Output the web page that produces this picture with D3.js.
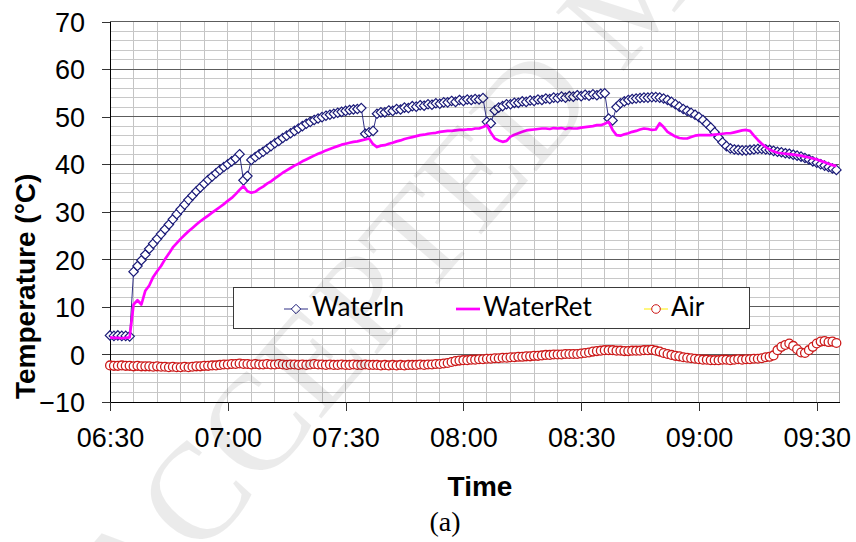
<!DOCTYPE html>
<html>
<head>
<meta charset="utf-8">
<script src="https://cdn.jsdelivr.net/npm/d3@7"></script>
<style>
  body { margin: 0; background: #fff; }
  svg { display: block; }
</style>
</head>
<body>
<svg id="chart" width="856" height="542"></svg>
<script>
// Logged temperatures, one reading per minute from 06:30
const startTime = "06:30";
const endTime = "09:35:40";

const waterIn = [
  4.0, 3.9, 4.0, 3.9, 3.9, 3.8,
  17.4, 18.6, 19.8, 21.0, 22.2, 23.3, 24.3, 25.3, 26.3, 27.3,
  28.4, 29.5, 30.5, 31.5, 32.5, 33.4, 34.3, 35.1, 35.9, 36.7,
  37.4, 38.1, 38.8, 39.4, 40.0, 40.6, 41.2, 42.1,
  36.6, 37.5, 40.9,
  41.5, 42.1, 42.6, 43.2, 43.8, 44.4, 44.9, 45.5, 46.0, 46.5, 47.0, 47.5, 48.0, 48.5,
  48.9, 49.3, 49.6, 49.9, 50.2, 50.4, 50.6, 50.8, 51.0, 51.2, 51.4, 51.5, 51.6, 51.8,
  46.4, 46.7, 47.0,
  50.6, 50.9, 50.9, 51.3, 51.2, 51.6, 51.5, 51.9, 51.8, 52.2, 52.1, 52.4, 52.3, 52.6,
  52.5, 52.8, 52.7, 53.0, 53.0, 53.3, 53.1, 53.5, 53.3, 53.6, 53.5, 53.7, 53.6, 53.9,
  48.9, 48.6, 51.3,
  51.9, 52.2, 52.6, 52.6, 52.9, 52.9, 53.2, 53.1, 53.4, 53.3, 53.6, 53.5, 53.8, 53.7,
  54.0, 53.9, 54.2, 54.0, 54.3, 54.2, 54.5, 54.3, 54.6, 54.4, 54.7, 54.5, 54.8, 54.9,
  49.6, 49.2, 52.0,
  52.8, 53.2, 53.5, 53.7, 53.8, 53.9, 54.0, 54.0, 54.1, 54.1, 54.0, 53.8, 53.5, 53.1,
  52.6, 52.1, 51.6, 51.2, 50.8, 50.4, 49.9, 49.3, 48.5, 47.7, 46.7, 45.6, 44.6, 43.8,
  43.3, 43.1, 43.0, 42.9, 42.9, 43.0, 43.1, 43.2, 43.2, 43.1, 43.0, 42.8, 42.6, 42.5,
  42.3, 42.2, 42.0, 41.8, 41.6, 41.3, 41.0, 40.6, 40.3, 40.0, 39.7, 39.4, 39.1, 38.8
];

const waterRet = [
  3.6, 3.5, 3.5, 3.4, 3.5, 3.6,
  10.5, 11.4, 10.5, 13.4, 14.5, 16.3, 17.5, 18.6, 20.0, 21.2,
  22.5, 23.4, 24.3, 25.1, 25.9, 26.6, 27.3, 28.0, 28.6, 29.2,
  29.8, 30.4, 31.0, 31.6, 32.3, 32.9, 33.7, 34.6, 35.4, 34.3,
  34.0, 34.2, 34.8, 35.3, 35.9, 36.4, 37.0, 37.6, 38.2, 38.7,
  39.2, 39.7, 40.1, 40.6, 41.0, 41.4, 41.8, 42.2, 42.5, 42.9,
  43.2, 43.5, 43.8, 44.1, 44.3, 44.5, 44.7, 44.8, 45.0, 45.2,
  45.4, 44.2, 43.6, 43.9, 44.0, 44.3, 44.5, 44.8, 45.0, 45.3,
  45.5, 45.7, 45.9, 46.1, 46.2, 46.4, 46.5, 46.6, 46.8, 46.9,
  47.0, 47.0, 47.1, 47.2, 47.2, 47.3, 47.3, 47.5, 47.5, 47.8,
  48.2, 46.6, 45.4, 45.0, 44.7, 44.9, 45.8, 46.2, 46.5, 46.8,
  47.1, 47.2, 47.3, 47.4, 47.5, 47.5, 47.4, 47.6, 47.5, 47.6,
  47.4, 47.6, 47.5, 47.5, 47.7, 47.8, 47.9, 48.0, 48.2, 48.2,
  48.5, 48.9, 47.2, 46.1, 46.0, 46.3, 46.5, 46.8, 47.0, 47.3,
  47.5, 47.4, 47.2, 47.3, 48.6, 47.8, 46.8, 46.3, 45.8, 45.5,
  45.4, 45.4, 45.7, 46.0, 46.1, 46.1, 46.1, 46.1, 46.2, 46.3,
  46.4, 46.5, 46.5, 46.7, 46.9, 47.1, 47.2, 47.0, 46.0, 45.1,
  44.3, 43.6, 43.1, 42.7, 42.4, 42.3, 42.2, 42.1, 42.0, 41.9,
  41.8, 41.6, 41.4, 41.2, 41.0, 40.7, 40.4, 40.1, 39.8, 39.6
];

const air = [
  -2.3, -2.4, -2.4, -2.3, -2.4, -2.4, -2.5, -2.4, -2.5, -2.5,
  -2.5, -2.6, -2.5, -2.6, -2.6, -2.7, -2.6, -2.7, -2.7, -2.6,
  -2.7, -2.6, -2.5, -2.5, -2.4, -2.4, -2.3, -2.3, -2.2, -2.1,
  -2.1, -2.0, -2.0, -1.9, -2.0, -2.0, -2.1, -2.0, -2.1, -2.1,
  -2.0, -2.1, -2.1, -2.0, -2.1, -2.2, -2.1, -2.1, -2.2, -2.1,
  -2.2, -2.1, -2.0, -2.1, -2.1, -2.2, -2.1, -2.2, -2.2, -2.1,
  -2.2, -2.2, -2.1, -2.2, -2.2, -2.1, -2.2, -2.2, -2.2, -2.3,
  -2.2, -2.3, -2.2, -2.3, -2.2, -2.3, -2.2, -2.2, -2.2, -2.1,
  -2.2, -2.1, -2.1, -2.0, -2.0, -1.9, -1.8, -1.6, -1.4, -1.3,
  -1.2, -1.2, -1.1, -1.1, -1.0, -1.0, -0.9, -0.9, -0.8, -0.8,
  -0.7, -0.7, -0.6, -0.6, -0.5, -0.5, -0.4, -0.4, -0.3, -0.3,
  -0.2, -0.1, -0.1, 0.0, 0.0, 0.0, 0.1, 0.1, 0.1, 0.1,
  0.2, 0.3, 0.4, 0.6, 0.7, 0.8, 0.9, 0.9, 0.9, 0.8,
  0.8, 0.7, 0.7, 0.8, 0.8, 0.8, 0.9, 0.9, 1.0, 0.8,
  0.6, 0.3, 0.1, -0.1, -0.3, -0.4, -0.6, -0.7, -0.8, -0.9,
  -1.0, -1.1, -1.1, -1.2, -1.2, -1.2, -1.1, -1.1, -1.2, -1.1,
  -1.0, -1.1, -1.0, -1.0, -0.9, -0.9, -0.8, -0.6, -0.5, -0.2,
  0.9, 1.6, 2.0, 2.3, 1.8, 1.1, 0.4, 0.3, 0.9, 1.6,
  2.3, 2.7, 2.8, 2.6, 2.7, 2.4
];

const seriesNames = ["WaterIn", "WaterRet", "Air"];
const yTicks = [-10, 0, 10, 20, 30, 40, 50, 60, 70];
const xTickLabels = ["06:30", "07:00", "07:30", "08:00", "08:30", "09:00", "09:30"];

const parseHM = d3.timeParse("%H:%M");
const parseHMS = d3.timeParse("%H:%M:%S");
const t0 = parseHM(startTime);
const timeAt = i => d3.timeMinute.offset(t0, i);

const svg = d3.select("#chart");
const plot = { left: 110, right: 839, top: 21.5, bottom: 402 };

const x = d3.scaleTime()
  .domain([t0, parseHMS(endTime)])
  .range([plot.left, plot.right]);
const y = d3.scaleLinear()
  .domain([-10, 70])
  .range([plot.bottom, plot.top]);

const sansFont = "'Liberation Sans', Arial, sans-serif";

// Gridlines
const grid = svg.append("g").attr("shape-rendering", "crispEdges");
grid.selectAll("line.vgrid")
  .data(x.ticks(d3.timeMinute.every(6)).filter(d => x(d) > plot.left + 1))
  .join("line")
  .attr("x1", d => x(d)).attr("x2", d => x(d))
  .attr("y1", plot.top).attr("y2", plot.bottom)
  .attr("stroke", "#c4c4c4").attr("stroke-width", 1);
grid.selectAll("line.hminor")
  .data(d3.range(-8, 70, 2).filter(v => v % 10 !== 0))
  .join("line")
  .attr("x1", plot.left).attr("x2", plot.right)
  .attr("y1", d => y(d)).attr("y2", d => y(d))
  .attr("stroke", "#c8c8c8").attr("stroke-width", 1);
grid.selectAll("line.hmajor")
  .data(yTicks.filter(v => v > -10))
  .join("line")
  .attr("x1", plot.left).attr("x2", plot.right)
  .attr("y1", d => y(d)).attr("y2", d => y(d))
  .attr("stroke", "#5c5c5c").attr("stroke-width", 1);
grid.append("line")
  .attr("x1", plot.right).attr("x2", plot.right)
  .attr("y1", plot.top).attr("y2", plot.bottom)
  .attr("stroke", "#a6a6a6");

// Axes
const yAxis = d3.axisLeft(y)
  .tickValues(yTicks)
  .tickSize(8)
  .tickSizeOuter(0)
  .tickPadding(17)
  .tickFormat(d3.format("d"));
const gy = svg.append("g")
  .attr("transform", `translate(${plot.left},0)`)
  .call(yAxis);

const xAxis = d3.axisBottom(x)
  .tickValues(xTickLabels.map(parseHM))
  .tickSize(9)
  .tickSizeOuter(0)
  .tickPadding(17)
  .tickFormat(d3.timeFormat("%H:%M"));
const gx = svg.append("g")
  .attr("transform", `translate(0,${plot.bottom})`)
  .call(xAxis);

[gx, gy].forEach(g => {
  g.attr("shape-rendering", "crispEdges");
  g.select(".domain").attr("stroke", "#000").attr("stroke-width", 1.2);
  g.selectAll(".tick line").attr("stroke", "#333");
  g.selectAll(".tick text")
    .attr("fill", "#000")
    .style("font-family", sansFont)
    .style("font-size", "27px");
});
gy.selectAll(".tick text").attr("dy", "0.36em");

// Series
const line = d3.line()
  .x((d, i) => x(timeAt(i)))
  .y(d => y(d));

const diamond = "M0,-4.7L4.7,0L0,4.7L-4.7,0Z";
const inColor = "#1a1a78";
const retColor = "#ff00ff";
const airColor = "#cc1a1a";
const airLine = "#ffee00";

const sIn = svg.append("g");
sIn.append("path").datum(waterIn)
  .attr("d", line).attr("fill", "none")
  .attr("stroke", inColor).attr("stroke-width", 0.9);
sIn.selectAll("path.mk").data(waterIn).join("path")
  .attr("class", "mk")
  .attr("d", diamond)
  .attr("transform", (d, i) => `translate(${x(timeAt(i))},${y(d)})`)
  .attr("fill", "#fff").attr("stroke", inColor).attr("stroke-width", 1.2);

svg.append("path").datum(waterRet)
  .attr("d", line).attr("fill", "none")
  .attr("stroke", retColor).attr("stroke-width", 2.7)
  .attr("stroke-linejoin", "round");

const sAir = svg.append("g");
sAir.append("path").datum(air)
  .attr("d", line).attr("fill", "none")
  .attr("stroke", airLine).attr("stroke-width", 1);
sAir.selectAll("circle").data(air).join("circle")
  .attr("cx", (d, i) => x(timeAt(i)))
  .attr("cy", d => y(d))
  .attr("r", 4.4)
  .attr("fill", "#fff").attr("stroke", airColor).attr("stroke-width", 1.3);

// Legend
const legend = svg.append("g");
legend.append("rect")
  .attr("x", 233.5).attr("y", 287.5).attr("width", 516).attr("height", 41)
  .attr("fill", "#fff").attr("stroke", "#3a3a3a").attr("stroke-width", 1);
const legendFont = "Lato, 'Open Sans', sans-serif";
const legendY = 309;
const legendItems = [
  { name: seriesNames[0], x0: 284, text: 312 },
  { name: seriesNames[1], x0: 456, text: 483 },
  { name: seriesNames[2], x0: 644, text: 671 }
];
legendItems.forEach((it, k) => {
  const g = legend.append("g");
  if (k === 0) {
    g.append("line").attr("x1", it.x0).attr("x2", it.x0 + 24)
      .attr("y1", legendY).attr("y2", legendY).attr("stroke", inColor).attr("stroke-width", 0.9);
    g.append("path").attr("d", diamond)
      .attr("transform", `translate(${it.x0 + 12},${legendY})`)
      .attr("fill", "#fff").attr("stroke", inColor).attr("stroke-width", 1);
  } else if (k === 1) {
    g.append("line").attr("x1", it.x0).attr("x2", it.x0 + 24)
      .attr("y1", legendY).attr("y2", legendY).attr("stroke", retColor).attr("stroke-width", 2.7);
  } else {
    g.append("line").attr("x1", it.x0).attr("x2", it.x0 + 24)
      .attr("y1", legendY).attr("y2", legendY).attr("stroke", airLine).attr("stroke-width", 1);
    g.append("circle").attr("cx", it.x0 + 12).attr("cy", legendY).attr("r", 4.3)
      .attr("fill", "#fff").attr("stroke", airColor).attr("stroke-width", 1);
  }
  g.append("text")
    .attr("x", it.text).attr("y", 316)
    .style("font-family", legendFont).style("font-size", "26px")
    .attr("fill", "#000")
    .text(it.name);
});

// Axis titles
svg.append("text")
  .attr("transform", "translate(35,399) rotate(-90)")
  .style("font-family", sansFont).style("font-size", "28px").style("font-weight", "bold")
  .text("Temperature (°C)");
svg.append("text")
  .attr("x", 480).attr("y", 496).attr("text-anchor", "middle")
  .style("font-family", sansFont).style("font-size", "28px").style("font-weight", "bold")
  .text("Time");
svg.append("text")
  .attr("x", 445).attr("y", 531).attr("text-anchor", "middle")
  .style("font-family", "'Liberation Serif', 'Times New Roman', serif").style("font-size", "28px")
  .text("(a)");

// Manuscript stamp across the figure
svg.append("text")
  .attr("transform", "translate(134,634) rotate(-49)")
  .style("font-family", "'Liberation Serif', 'Times New Roman', serif")
  .style("font-size", "137px")
  .attr("fill", "#000").attr("fill-opacity", 0.08)
  .attr("pointer-events", "none")
  .text("ACCEPTED MANUSCRIPT");
</script>
</body>
</html>
